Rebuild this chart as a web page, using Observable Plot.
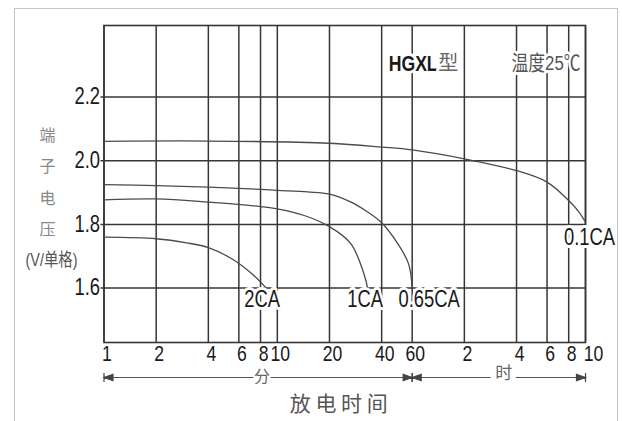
<!DOCTYPE html>
<html>
<head>
<meta charset="utf-8">
<script src="https://cdn.jsdelivr.net/npm/d3@7"></script>
<script src="https://cdn.jsdelivr.net/npm/@observablehq/plot@0.6"></script>
<style>
  html, body { margin: 0; padding: 0; background: #fff; }
  #wrap { position: relative; width: 622px; height: 421px; overflow: hidden; }
  #border { position: absolute; left: 14px; top: 8px; width: 602px; height: 430px;
            border: 1.5px solid #c4c4c4; pointer-events: none; }
</style>
</head>
<body>
<div id="wrap"><div id="chart"></div><div id="border"></div></div>
<script>
// ---- data (time in minutes, voltage in V per cell) ----
const xTicks = [1, 2, 4, 6, 8, 10, 20, 40, 60, 120, 240, 360, 480, 600];
const xTickLabels = ["1", "2", "4", "6", "8", "10", "20", "40", "60", "2", "4", "6", "8", "10"];
const yTicks = [1.6, 1.8, 2.0, 2.2];
const yDomain = [1.429, 2.425];

const t2CA = [1, 2, 3, 4, 5.46, 7.13, 8.63];
const v2CA = [1.760, 1.755, 1.742, 1.727, 1.692, 1.645, 1.600];

const t1CA = [1, 2, 4, 8, 10, 14.3, 20, 26.6, 31.6, 33.2];
const v1CA = [1.877, 1.880, 1.870, 1.856, 1.849, 1.828, 1.793, 1.739, 1.645, 1.600];

const t065CA = [1, 2, 4, 8, 10, 15, 20, 26.6, 33, 40, 49.6, 57.2, 60];
const v065CA = [1.925, 1.922, 1.917, 1.910, 1.907, 1.902, 1.895, 1.870, 1.840, 1.805, 1.739, 1.676, 1.600];

const t01CA = [1, 4, 20, 40, 60, 120, 240, 360, 480, 552, 600];
const v01CA = [2.061, 2.062, 2.055, 2.043, 2.034, 2.006, 1.969, 1.933, 1.875, 1.838, 1.807];

const seriesNames = ["2CA", "1CA", "0.65CA", "0.1CA"];
const seriesT = [t2CA, t1CA, t065CA, t01CA];
const seriesV = [v2CA, v1CA, v065CA, v01CA];

const yLabelChars = "端\n子\n电\n压";
const yLabelUnit = "(V/单格)";
const modelLabel = "HGXL";
const modelSuffix = "型";
const tempLabel = "温度25℃";
const minuteLabel = "分";
const hourLabel = "时";
const xTitle = "放 电 时 间";

// ---- build table ----
const rows = [];
seriesNames.forEach((name, s) => {
  seriesT[s].forEach((t, i) => rows.push({series: name, t, v: seriesV[s][i]}));
});
const ends = seriesNames.map((name, s) => ({
  series: name,
  t: seriesT[s][seriesT[s].length - 1],
  v: seriesV[s][seriesV[s].length - 1]
}));

const NARROW = "'Liberation Sans Narrow', 'Liberation Sans', 'Noto Sans CJK SC', sans-serif";
const CJK = "'Noto Sans CJK SC', sans-serif";
const GRID = "#363636";
const CURVE = "#4a4a4a";

const headR = {draw(ctx) {
  ctx.moveTo(0, 0); ctx.lineTo(-9, -3.2); ctx.lineTo(-9, 3.2); ctx.closePath();
  ctx.moveTo(0, -4.5); ctx.lineTo(0, 4.5);
}};
const headL = {draw(ctx) {
  ctx.moveTo(0, 0); ctx.lineTo(9, -3.2); ctx.lineTo(9, 3.2); ctx.closePath();
  ctx.moveTo(0, -4.5); ctx.lineTo(0, 4.5);
}};
const arrowHeads = [{t: 1, dir: "L"}, {t: 60, dir: "R"}, {t: 60, dir: "L"}, {t: 600, dir: "R"}];

const endLabelOffset = {
  "2CA": [-4, 12], "1CA": [-2.5, 12], "0.65CA": [17, 12], "0.1CA": [4, 15]
};

const labelMarks = ends.map(e => Plot.text([e], {
  x: "t", y: "v", text: "series",
  dx: endLabelOffset[e.series][0], dy: endLabelOffset[e.series][1],
  fontFamily: NARROW, fontSize: 23, fill: "#1a1a1a",
  stroke: "white", strokeWidth: 6, paintOrder: "stroke"
}));

const plot = Plot.plot({
  width: 622,
  height: 421,
  marginLeft: 103.5,
  marginRight: 37,
  marginTop: 25,
  marginBottom: 79,
  x: {type: "log", domain: [1, 600], axis: null},
  y: {type: "linear", domain: yDomain, axis: null},
  style: {background: "transparent", overflow: "visible"},
  marks: [
    Plot.ruleX(xTicks, {stroke: GRID, strokeWidth: 1.5}),
    Plot.ruleY(yTicks, {stroke: GRID, strokeWidth: 1.5, insetLeft: -3}),
    Plot.frame({stroke: GRID, strokeWidth: 1.6}),
    Plot.line(rows, {x: "t", y: "v", z: "series", stroke: CURVE, strokeWidth: 1.3, curve: "catmull-rom"}),
    ...labelMarks,
    // model / temperature notes
    Plot.text([modelLabel], {x: () => 60, text: d => d, frameAnchor: "top", dy: 30, dx: 1,
      fontFamily: NARROW, fontSize: 22, fontWeight: "bold", fill: "#1a1a1a",
      stroke: "white", strokeWidth: 6, paintOrder: "stroke"}),
    Plot.text([modelSuffix], {x: () => 60, text: d => d, frameAnchor: "top", dy: 30, dx: 36,
      fontFamily: CJK, fontSize: 20, fill: "#666",
      stroke: "white", strokeWidth: 6, paintOrder: "stroke"}),
    Plot.text([tempLabel], {x: () => 360, text: d => d, frameAnchor: "top", dy: 30, dx: -1,
      fontFamily: NARROW, fontSize: 21, fill: "#555",
      stroke: "white", strokeWidth: 6, paintOrder: "stroke"}),
    // y tick labels
    Plot.text(yTicks, {y: d => d, text: d => d3.format(".1f")(d), frameAnchor: "left",
      textAnchor: "end", dx: -4, fontFamily: NARROW, fontSize: 23, fill: "#1a1a1a"}),
    // x tick labels
    Plot.text(xTicks.slice(0, -1), {x: d => d, text: (d, i) => xTickLabels[i], frameAnchor: "bottom",
      textAnchor: "middle", lineAnchor: "top", dy: 3, dx: 3, fontFamily: NARROW, fontSize: 22, fill: "#1a1a1a"}),
    Plot.text(xTicks.slice(-1), {x: d => d, text: () => xTickLabels[xTickLabels.length - 1], frameAnchor: "bottom",
      textAnchor: "middle", lineAnchor: "top", dy: 3, dx: 8, fontFamily: NARROW, fontSize: 22, fill: "#1a1a1a"}),
    // y axis title
    Plot.text([yLabelChars], {text: d => d, frameAnchor: "left", textAnchor: "middle", dx: -56.5, dy: -6,
      lineHeight: 1.95, fontFamily: CJK, fontSize: 16, fill: "#888"}),
    Plot.text([yLabelUnit], {text: d => d, frameAnchor: "left", textAnchor: "middle", dx: -52.5, dy: 76.5,
      fontFamily: NARROW, fontSize: 18, fill: "#555"}),
    // minute / hour span arrows
    Plot.ruleY([yDomain[0]], {x1: 1, x2: 600, dy: 35, stroke: "#555", strokeWidth: 1.2}),
    Plot.dot(arrowHeads.filter(d => d.dir === "R"), {x: "t", y: () => yDomain[0], dy: 35,
      symbol: headR, fill: "#444", stroke: "#444", strokeWidth: 1.2}),
    Plot.dot(arrowHeads.filter(d => d.dir === "L"), {x: "t", y: () => yDomain[0], dy: 35,
      symbol: headL, fill: "#444", stroke: "#444", strokeWidth: 1.2}),
    Plot.text([minuteLabel], {x: () => Math.sqrt(1 * 60), text: d => d, frameAnchor: "bottom", textAnchor: "middle",
      dy: 39, dx: 4, fontFamily: CJK, fontSize: 16, fill: "#666", stroke: "white", strokeWidth: 5, paintOrder: "stroke"}),
    Plot.text([hourLabel], {x: () => Math.sqrt(60 * 600), text: d => d, frameAnchor: "bottom", textAnchor: "middle",
      dy: 36, dx: 5, fontFamily: CJK, fontSize: 17, fill: "#666", stroke: "white", strokeWidth: 12, paintOrder: "stroke"}),
    // x title
    Plot.text([xTitle], {text: d => d, frameAnchor: "bottom", textAnchor: "middle", dy: 68, dx: -6,
      fontFamily: CJK, fontSize: 21, fill: "#555"})
  ]
});

// Condense the Arial-Narrow-style texts horizontally (no narrow font is installed)
d3.select(plot).selectAll("g[font-family]")
  .filter(function() { return this.getAttribute("font-family").includes("Narrow"); })
  .selectAll("text")
  .attr("transform", function() {
    const t = this.getAttribute("transform") || "";
    return t + " scale(0.8,1)";
  });

document.getElementById("chart").appendChild(plot);
</script>
</body>
</html>
